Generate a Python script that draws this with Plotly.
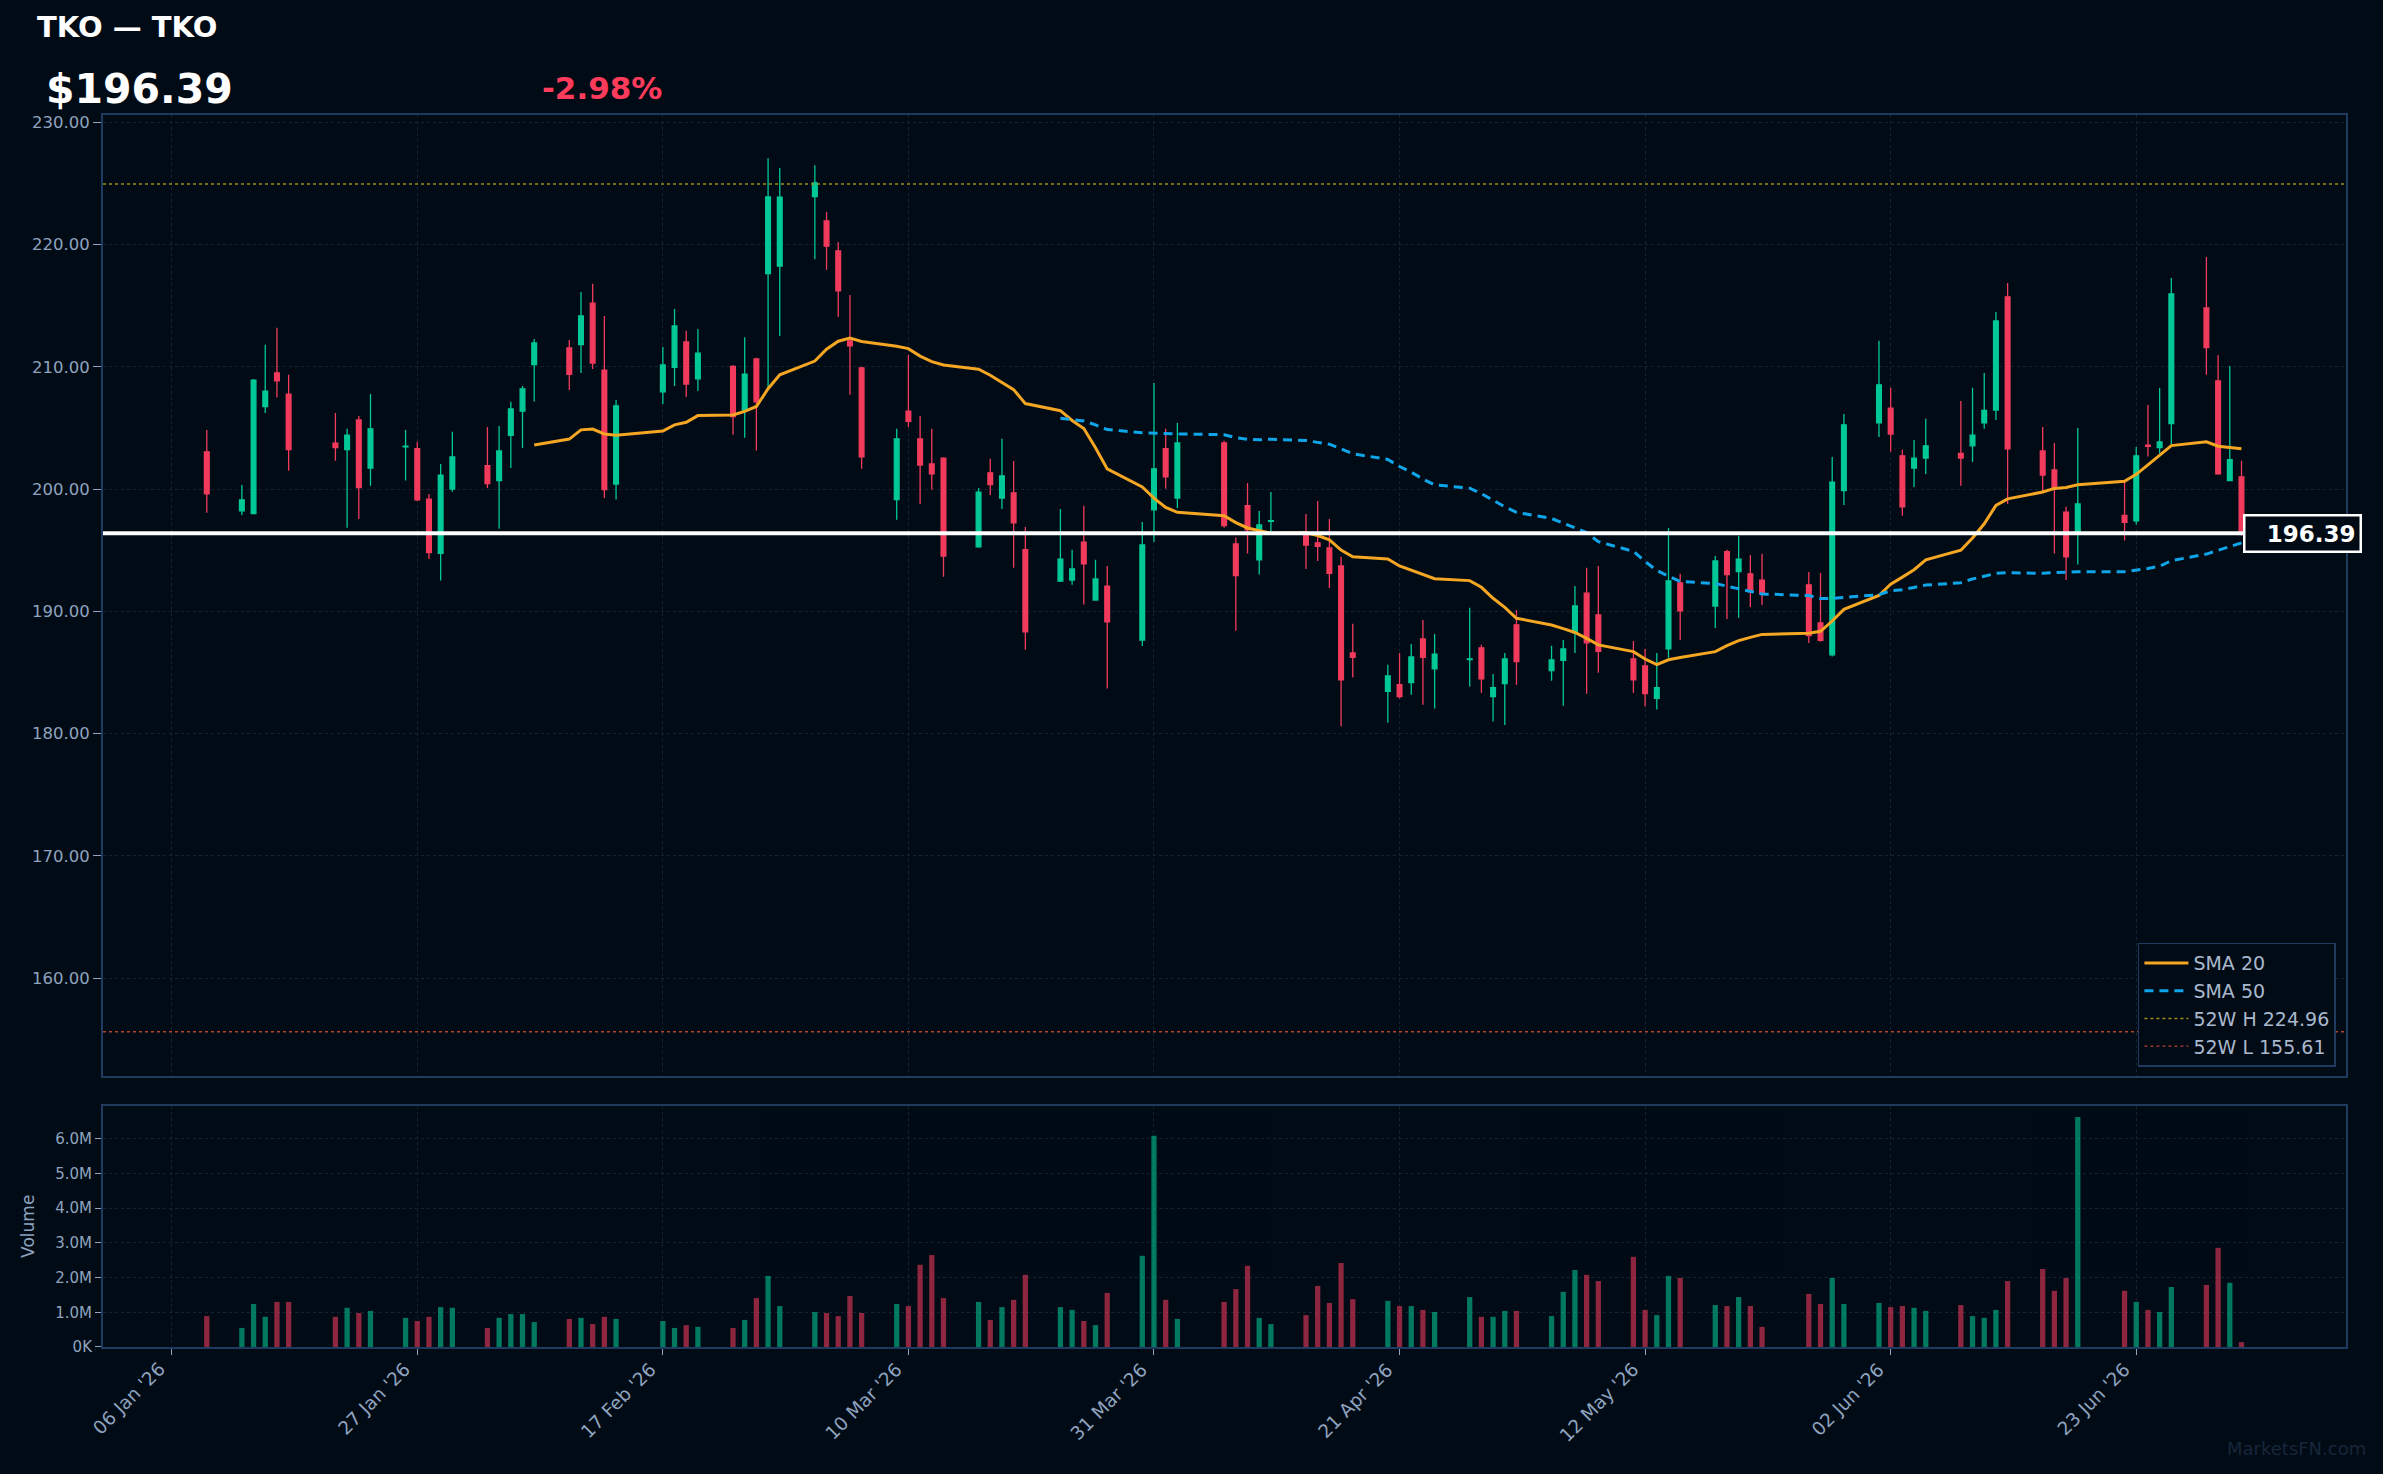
import plotly.graph_objects as go
import pandas as pd

# ---------------- data ----------------
dates = [
    "2026-01-09",
    "2026-01-12", "2026-01-13", "2026-01-14", "2026-01-15", "2026-01-16",
    "2026-01-20", "2026-01-21", "2026-01-22", "2026-01-23",
    "2026-01-26", "2026-01-27", "2026-01-28", "2026-01-29", "2026-01-30",
    "2026-02-02", "2026-02-03", "2026-02-04", "2026-02-05", "2026-02-06",
    "2026-02-09", "2026-02-10", "2026-02-11", "2026-02-12", "2026-02-13",
    "2026-02-17", "2026-02-18", "2026-02-19", "2026-02-20",
    "2026-02-23", "2026-02-24", "2026-02-25", "2026-02-26", "2026-02-27",
    "2026-03-02", "2026-03-03", "2026-03-04", "2026-03-05", "2026-03-06",
    "2026-03-09", "2026-03-10", "2026-03-11", "2026-03-12", "2026-03-13",
    "2026-03-16", "2026-03-17", "2026-03-18", "2026-03-19", "2026-03-20",
    "2026-03-23", "2026-03-24", "2026-03-25", "2026-03-26", "2026-03-27",
    "2026-03-30", "2026-03-31", "2026-04-01", "2026-04-02",
    "2026-04-06", "2026-04-07", "2026-04-08", "2026-04-09", "2026-04-10",
    "2026-04-13", "2026-04-14", "2026-04-15", "2026-04-16", "2026-04-17",
    "2026-04-20", "2026-04-21", "2026-04-22", "2026-04-23", "2026-04-24",
    "2026-04-27", "2026-04-28", "2026-04-29", "2026-04-30", "2026-05-01",
    "2026-05-04", "2026-05-05", "2026-05-06", "2026-05-07", "2026-05-08",
    "2026-05-11", "2026-05-12", "2026-05-13", "2026-05-14", "2026-05-15",
    "2026-05-18", "2026-05-19", "2026-05-20", "2026-05-21", "2026-05-22",
    "2026-05-26", "2026-05-27", "2026-05-28", "2026-05-29",
    "2026-06-01", "2026-06-02", "2026-06-03", "2026-06-04", "2026-06-05",
    "2026-06-08", "2026-06-09", "2026-06-10", "2026-06-11", "2026-06-12",
    "2026-06-15", "2026-06-16", "2026-06-17", "2026-06-18",
    "2026-06-22", "2026-06-23", "2026-06-24", "2026-06-25", "2026-06-26",
    "2026-06-29", "2026-06-30", "2026-07-01", "2026-07-02",
]

opens = [
    203.05,
    198.22, 198.00, 206.75, 209.50, 207.77,
    203.75, 203.24, 205.66, 201.72,
    203.45, 203.30, 199.18, 194.74, 200.00,
    201.91, 200.70, 204.39, 206.38, 210.19,
    211.55, 211.83, 215.21, 209.74, 200.42,
    207.96, 209.95, 212.04, 209.01,
    210.04, 206.47, 210.65, 217.63, 218.24,
    223.93, 221.93, 219.48, 212.13, 209.92,
    199.15, 206.38, 204.11, 202.06, 202.54,
    195.28, 201.33, 199.27, 199.70, 195.04,
    192.47, 192.56, 195.67, 190.93, 192.07,
    187.66, 198.31, 203.30, 199.27,
    203.78, 195.52, 198.64, 194.22, 197.37,
    196.34, 195.61, 195.19, 193.71, 186.60,
    183.45, 184.00, 184.18, 187.75, 185.30,
    186.06, 187.02, 183.03, 184.09, 188.90,
    185.15, 185.99, 188.26, 191.50, 189.72,
    186.12, 185.54, 182.88, 186.93, 192.32,
    190.44, 194.89, 193.25, 193.07, 192.56,
    192.17, 189.05, 186.45, 199.88,
    205.41, 206.62, 202.72, 201.72, 202.54,
    202.93, 203.54, 205.41, 206.47, 215.73,
    203.12, 201.57, 198.12, 196.50,
    197.85, 197.40, 203.59, 203.40, 205.36,
    214.82, 208.85, 200.70, 201.00,
]

highs = [
    204.84,
    200.33, 209.01, 211.80, 213.19, 209.35,
    206.23, 204.93, 205.99, 207.77,
    204.84, 203.87, 199.61, 202.06, 204.69,
    205.08, 205.17, 207.14, 208.44, 212.28,
    212.19, 216.12, 216.79, 214.16, 207.29,
    211.62, 214.73, 212.95, 213.10,
    210.16, 212.43, 210.74, 227.07, 226.26,
    226.50, 222.66, 220.21, 215.88, 209.98,
    204.93, 210.98, 205.99, 204.93, 202.60,
    200.09, 202.48, 204.11, 202.30, 196.91,
    198.37, 195.04, 198.64, 194.22, 193.71,
    197.31, 208.68, 204.93, 205.41,
    203.96, 196.04, 200.51, 198.22, 199.76,
    197.97, 199.03, 197.55, 194.46, 188.99,
    185.63, 186.60, 187.33, 189.29, 188.14,
    190.29, 187.27, 184.88, 186.60, 190.11,
    187.18, 187.66, 192.07, 193.56, 193.71,
    187.57, 186.93, 186.60, 196.82, 193.07,
    194.53, 195.04, 196.19, 194.62, 194.71,
    193.22, 193.13, 202.63, 206.14,
    212.13, 208.29, 203.21, 204.02, 205.75,
    207.20, 208.29, 209.50, 214.49, 216.85,
    205.08, 203.78, 198.55, 204.99,
    200.70, 203.45, 206.88, 208.27, 217.27,
    218.98, 210.97, 210.07, 202.31,
]

lows = [
    198.06,
    197.88, 197.95, 206.23, 207.50, 201.51,
    202.33, 196.85, 197.55, 200.27,
    200.70, 199.03, 194.28, 192.53, 199.79,
    200.09, 196.76, 201.72, 203.36, 207.17,
    208.11, 209.50, 209.83, 199.27, 199.15,
    206.96, 208.44, 207.53, 208.02,
    204.45, 204.20, 203.15, 208.29, 212.52,
    218.81, 217.94, 214.07, 207.71, 201.66,
    197.49, 205.08, 198.79, 199.94, 192.83,
    195.20, 199.52, 198.37, 193.56, 186.87,
    192.41, 192.17, 190.56, 190.90, 183.70,
    187.17, 195.67, 200.03, 198.46,
    196.85, 188.42, 194.74, 193.01, 196.43,
    193.47, 194.13, 191.92, 180.60, 184.60,
    180.90, 182.88, 183.18, 182.37, 182.06,
    183.85, 183.33, 181.00, 180.70, 184.00,
    184.33, 182.28, 186.60, 183.27, 184.99,
    183.33, 182.21, 181.97, 186.21, 187.66,
    188.63, 189.38, 189.47, 190.35, 190.53,
    187.42, 187.51, 186.30, 198.70,
    204.27, 203.06, 197.82, 200.18, 201.24,
    200.27, 202.21, 204.93, 205.66, 198.79,
    199.67, 194.74, 192.56, 193.83,
    195.80, 197.10, 202.67, 202.93, 203.62,
    209.36, 201.17, 200.70, 196.20,
]

closes = [
    199.61,
    199.12, 208.92, 208.02, 208.86, 203.24,
    203.39, 204.42, 200.12, 204.93,
    203.51, 199.12, 194.80, 201.15, 202.63,
    200.45, 203.12, 206.56, 208.20, 211.95,
    209.38, 214.16, 210.31, 199.97, 206.81,
    210.16, 213.34, 208.59, 211.13,
    205.93, 209.41, 207.14, 223.90, 223.88,
    225.05, 219.87, 216.21, 211.71, 202.63,
    204.11, 205.54, 201.97, 201.24, 194.53,
    199.76, 200.36, 201.09, 197.25, 188.32,
    194.28, 193.47, 193.89, 192.65, 189.14,
    195.43, 201.66, 201.00, 203.78,
    197.01, 192.92, 196.67, 197.07, 197.43,
    195.43, 195.31, 193.10, 184.39, 186.24,
    184.72, 183.03, 186.27, 186.24, 186.51,
    186.12, 184.48, 183.76, 186.12, 185.90,
    186.03, 186.93, 190.44, 187.42, 186.72,
    184.39, 183.27, 183.76, 192.50, 190.05,
    194.13, 193.01, 194.28, 191.59, 191.44,
    188.02, 187.63, 200.57, 205.26,
    208.53, 204.51, 198.55, 202.54, 203.54,
    202.54, 204.42, 206.44, 213.76, 203.30,
    201.15, 200.09, 194.46, 198.79,
    197.28, 202.72, 203.50, 203.86, 215.96,
    211.57, 201.25, 202.42, 196.39,
]

volumes_m = [
    0.89,
    0.55, 1.24, 0.87, 1.30, 1.30,
    0.87, 1.13, 0.98, 1.04,
    0.84, 0.75, 0.87, 1.15, 1.13,
    0.55, 0.84, 0.95, 0.95, 0.72,
    0.81, 0.84, 0.66, 0.87, 0.81,
    0.75, 0.55, 0.63, 0.58,
    0.55, 0.78, 1.41, 2.05, 1.18,
    1.01, 0.98, 0.89, 1.47, 0.98,
    1.24, 1.18, 2.37, 2.65, 1.41,
    1.30, 0.78, 1.15, 1.36, 2.08,
    1.15, 1.07, 0.75, 0.63, 1.56,
    2.63, 6.09, 1.36, 0.81,
    1.30, 1.67, 2.34, 0.84, 0.66,
    0.92, 1.76, 1.27, 2.42, 1.38,
    1.33, 1.18, 1.18, 1.07, 1.01,
    1.44, 0.87, 0.87, 1.04, 1.04,
    0.89, 1.59, 2.22, 2.08, 1.90,
    2.60, 1.07, 0.92, 2.05, 1.99,
    1.21, 1.18, 1.44, 1.18, 0.58,
    1.53, 1.24, 1.99, 1.24,
    1.27, 1.15, 1.18, 1.13, 1.04,
    1.21, 0.89, 0.84, 1.07, 1.90,
    2.25, 1.62, 1.99, 6.63,
    1.62, 1.30, 1.07, 1.01, 1.73,
    1.79, 2.86, 1.85, 0.14,
]

ticker = "TKO"
last_price = 196.39
change_pct = -2.98
high_52w = 224.96
low_52w = 155.61

x_tick_dates = ["2026-01-06", "2026-01-27", "2026-02-17", "2026-03-10", "2026-03-31",
                "2026-04-21", "2026-05-12", "2026-06-02", "2026-06-23"]
x_tick_labels = ["06 Jan '26", "27 Jan '26", "17 Feb '26", "10 Mar '26", "31 Mar '26",
                 "21 Apr '26", "12 May '26", "02 Jun '26", "23 Jun '26"]
vol_tick_vals_m = [0, 1, 2, 3, 4, 5, 6]
vol_tick_text = ["0K", "1.0M", "2.0M", "3.0M", "4.0M", "5.0M", "6.0M"]
price_ticks = [160, 170, 180, 190, 200, 210, 220, 230]

# ---------------- derived ----------------
df = pd.DataFrame({"date": pd.to_datetime(dates), "open": opens, "high": highs,
                   "low": lows, "close": closes, "vol": [v * 1e6 for v in volumes_m]})
df["sma20"] = df["close"].rolling(20).mean()
df["sma50"] = df["close"].rolling(50).mean()
up = df["close"] >= df["open"]

BG = "#010b16"
GREEN = "#00c896"
RED = "#f23b5c"
FRAME = "#1e3a5f"
GRID = "#142232"
TXT = "#8fa3bf"
FONT = "DejaVu Sans"

x_range = ["2025-12-31 03:00", "2026-07-10 22:30"]

fig = go.Figure()

# 52W lines
fig.add_trace(go.Scatter(x=x_range, y=[high_52w, high_52w], mode="lines",
                         line=dict(color="#a08a18", width=1.4, dash="dot"),
                         name=f"52W H {high_52w:.2f}", xaxis="x", yaxis="y",
                         hoverinfo="skip"))
fig.add_trace(go.Scatter(x=x_range, y=[low_52w, low_52w], mode="lines",
                         line=dict(color="#b4462e", width=1.4, dash="dot"),
                         name=f"52W L {low_52w:.2f}", xaxis="x", yaxis="y",
                         hoverinfo="skip"))

fig.add_trace(go.Candlestick(
    x=df["date"], open=df["open"], high=df["high"], low=df["low"], close=df["close"],
    increasing=dict(line=dict(color=GREEN, width=1.3), fillcolor=GREEN),
    decreasing=dict(line=dict(color=RED, width=1.3), fillcolor=RED),
    whiskerwidth=0, showlegend=False, xaxis="x", yaxis="y", name=ticker))

fig.add_trace(go.Scatter(x=df["date"], y=df["sma20"], mode="lines",
                         line=dict(color="#f5a623", width=3), name="SMA 20",
                         xaxis="x", yaxis="y"))
fig.add_trace(go.Scatter(x=df["date"], y=df["sma50"], mode="lines",
                         line=dict(color="#0ea5e9", width=3, dash="9px,6px"), name="SMA 50",
                         xaxis="x", yaxis="y"))

fig.add_trace(go.Bar(x=df["date"], y=df["vol"],
                     marker=dict(color=[GREEN if u else RED for u in up], line=dict(width=0)),
                     opacity=0.58, width=0.45 * 86400000, showlegend=False,
                     xaxis="x2", yaxis="y2", name="Volume"))

# legend order: SMA 20, SMA 50, 52W H, 52W L
fig.data[3].legendrank = 1
fig.data[4].legendrank = 2
fig.data[0].legendrank = 3
fig.data[1].legendrank = 4

vmax = max(df["vol"]) * 1.05

fig.update_layout(
    width=2383, height=1474,
    paper_bgcolor=BG, plot_bgcolor=BG,
    margin=dict(l=103, r=37, t=115, b=127),
    font=dict(family=FONT, color=TXT, size=18),
    showlegend=True,
    boxgap=0.42,
    legend=dict(x=0.9955, y=0.2275, xanchor="right", yanchor="bottom",
                bgcolor=BG, bordercolor=FRAME, borderwidth=1.5,
                font=dict(family=FONT, size=19, color="#a9b8cc"),
                tracegroupgap=0, itemwidth=44),
    xaxis=dict(domain=[0, 1], anchor="y", type="date", range=x_range,
               rangeslider=dict(visible=False), showticklabels=False,
               tickvals=x_tick_dates,
               showgrid=True, gridcolor=GRID, griddash="dot", gridwidth=1,
               showline=True, linecolor=FRAME, linewidth=2, mirror=True,
               ticks="", zeroline=False),
    yaxis=dict(domain=[0.22, 1], anchor="x", range=[152.0, 230.6],
               tickvals=price_ticks, tickformat=".2f",
               tickfont=dict(size=16.5, color=TXT),
               showgrid=True, gridcolor=GRID, griddash="dot", gridwidth=1,
               showline=True, linecolor=FRAME, linewidth=2, mirror=True,
               ticks="outside", ticklen=8, tickcolor=TXT, zeroline=False),
    xaxis2=dict(domain=[0, 1], anchor="y2", type="date", matches="x", range=x_range,
                tickvals=x_tick_dates, showticklabels=False,
                showgrid=True, gridcolor=GRID, griddash="dot", gridwidth=1,
                showline=True, linecolor=FRAME, linewidth=2, mirror=True,
                ticks="outside", ticklen=6, tickcolor=TXT, zeroline=False),
    yaxis2=dict(domain=[0, 0.196], anchor="x2", range=[0, vmax],
                tickvals=[v * 1e6 for v in vol_tick_vals_m], ticktext=vol_tick_text,
                tickfont=dict(size=15, color=TXT),
                title=dict(text="Volume", font=dict(size=17, color=TXT), standoff=16),
                showgrid=True, gridcolor=GRID, griddash="dot", gridwidth=1,
                showline=True, linecolor=FRAME, linewidth=2, mirror=True,
                ticks="outside", ticklen=6, tickcolor=TXT, zeroline=False),
)

# current price line
fig.add_shape(type="line", xref="x domain", yref="y", x0=0, x1=1,
              y0=last_price, y1=last_price, line=dict(color="#ffffff", width=4), layer="above")

annotations = [
    dict(text=f"<b>{ticker} — {ticker}</b>", xref="paper", yref="paper",
         x=(35 - 103) / 2243, y=1 + (115 - 27) / 1232, xanchor="left", yanchor="middle",
         showarrow=False, font=dict(family=FONT, size=29, color="#ffffff")),
    dict(text=f"<b>${last_price:.2f}</b>", xref="paper", yref="paper",
         x=(44 - 103) / 2243, y=1 + (115 - 89) / 1232, xanchor="left", yanchor="middle",
         showarrow=False, font=dict(family=FONT, size=41, color="#ffffff")),
    dict(text=f"<b>{change_pct:+.2f}%</b>", xref="paper", yref="paper",
         x=(540 - 103) / 2243, y=1 + (115 - 88) / 1232, xanchor="left", yanchor="middle",
         showarrow=False, font=dict(family=FONT, size=31, color="#ff3b5c")),
    dict(text=f"<b>{last_price:.2f}</b>", xref="paper", yref="y",
         x=(2243 - 103) / 2243, y=last_price, xanchor="left", yanchor="middle",
         showarrow=False, align="right", width=106,
         bgcolor=BG, bordercolor="#ffffff", borderwidth=2.5, borderpad=4,
         font=dict(family=FONT, size=23, color="#ffffff")),
    dict(text="MarketsFN.com", xref="paper", yref="paper",
         x=(2368 - 103) / 2243, y=(1347 - 1448) / 1232, xanchor="right", yanchor="middle",
         showarrow=False, font=dict(family=FONT, size=18, color="#17263a")),
]
# rotated date labels, anchored by their top-right corner just under each tick
for d, lab in zip(x_tick_dates, x_tick_labels):
    annotations.append(dict(text=lab, xref="x2", yref="paper", x=d, y=(1347 - 1356) / 1232,
                            xanchor="right", yanchor="top", textangle=-45, showarrow=False,
                            font=dict(family=FONT, size=18.5, color=TXT)))
fig.update_layout(annotations=annotations)

fig.write_html("out.html")
